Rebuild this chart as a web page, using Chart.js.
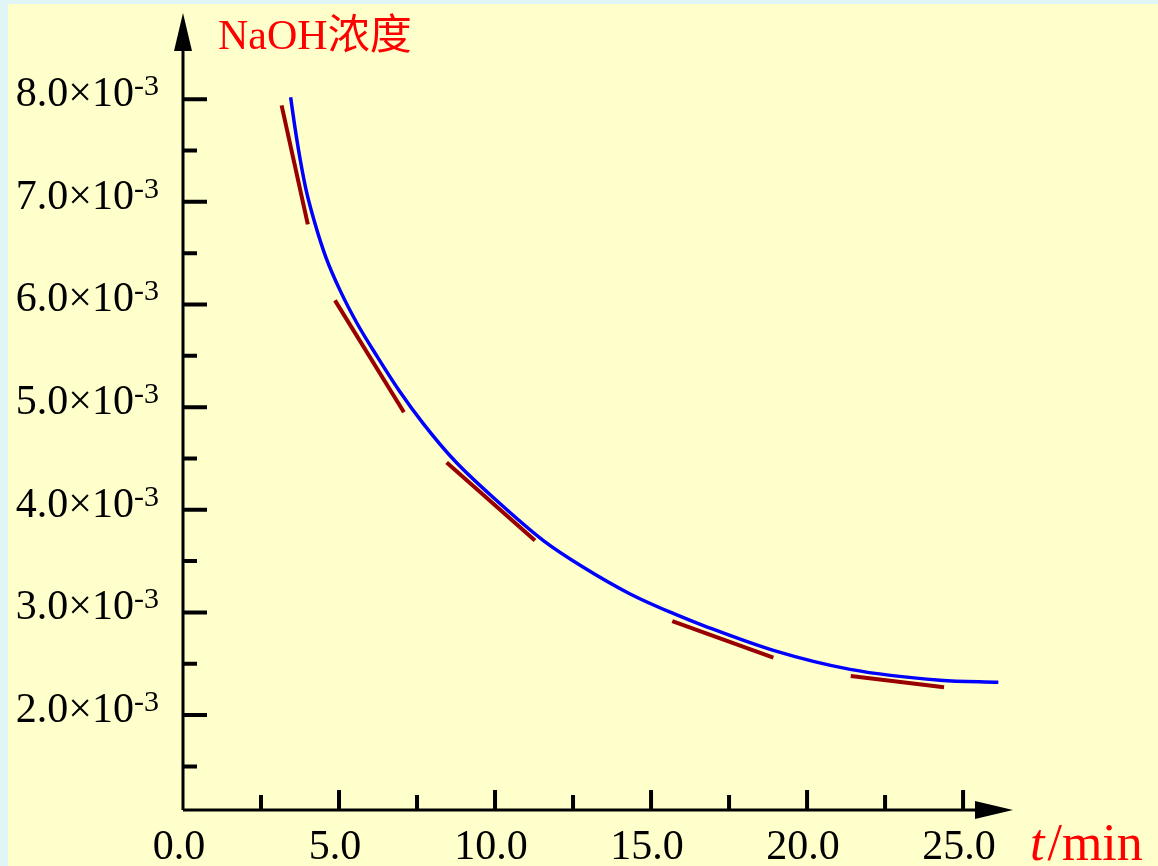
<!DOCTYPE html>
<html lang="zh">
  <head>
    <meta charset="UTF-8" />
    <title>NaOH浓度</title>
    <style>
      body {
        margin: 0;
        background-color: #e0f6f6;
      }
      canvas {
        display: block;
      }
    </style>
    <script src="https://cdn.jsdelivr.net/npm/chart.js"></script>
  </head>
  <body>
    <canvas id="chart" width="1158" height="866"></canvas>
    <script>
      // concentration curve, t in min, NaOH in units of 10^-3
      const curveT = [3.45, 3.57, 3.74, 3.95, 4.23, 4.58, 5.03, 5.59, 6.23, 6.93, 7.7, 8.7, 10.05, 11.55, 12.83, 14.33, 15.71, 16.78, 18.92, 21.38, 24.26, 26.13];
      const curveC = [8.02, 7.76, 7.44, 7.11, 6.79, 6.46, 6.14, 5.81, 5.49, 5.16, 4.84, 4.48, 4.09, 3.7, 3.44, 3.18, 2.99, 2.86, 2.63, 2.445, 2.34, 2.32];

      // short tangent segments (start / end)
      const tanStartT = [3.16, 4.87, 8.45, 15.68, 21.4];
      const tanStartC = [7.94, 6.04, 4.46, 2.915, 2.38];
      const tanEndT = [4.0, 7.08, 11.28, 18.92, 24.39];
      const tanEndC = [6.78, 4.95, 3.7, 2.56, 2.27];

      const xTicks = [0, 5, 10, 15, 20, 25];
      const xLabels = ["0.0", "5.0", "10.0", "15.0", "20.0", "25.0"];
      const xMinor = [2.5, 7.5, 12.5, 17.5, 22.5];
      const yTicks = [2, 3, 4, 5, 6, 7, 8];
      const yLabels = ["2.0", "3.0", "4.0", "5.0", "6.0", "7.0", "8.0"];
      const yMinor = [1.5, 2.5, 3.5, 4.5, 5.5, 6.5, 7.5];

      const serif = '"Liberation Serif", "Noto Sans CJK SC", serif';

      const datasets = [
        {
          data: curveT.map((t, i) => ({ x: t, y: curveC[i] })),
          showLine: true,
          borderColor: "#0000ff",
          borderWidth: 3.5,
          pointRadius: 0,
          cubicInterpolationMode: "monotone",
        },
      ];
      for (let i = 0; i < tanStartT.length; i++) {
        datasets.push({
          data: [
            { x: tanStartT[i], y: tanStartC[i] },
            { x: tanEndT[i], y: tanEndC[i] },
          ],
          showLine: true,
          borderColor: "#990000",
          borderWidth: 4,
          pointRadius: 0,
        });
      }

      // background, axes with arrows, inward ticks, labels
      const axesPlugin = {
        id: "axes",
        beforeDraw(chart) {
          const ctx = chart.ctx;
          ctx.save();
          ctx.fillStyle = "#e0f6f6";
          ctx.fillRect(0, 0, chart.width, chart.height);
          ctx.fillStyle = "#ffffcc";
          ctx.fillRect(8, 4, chart.width - 8, chart.height - 4);
          ctx.restore();
        },
        afterDraw(chart) {
          const ctx = chart.ctx;
          const xs = chart.scales.x;
          const ys = chart.scales.y;
          const x0 = xs.getPixelForValue(0);
          const y0 = ys.bottom;
          const top = ys.top;
          const right = xs.right;
          ctx.save();
          ctx.strokeStyle = "#000";
          ctx.fillStyle = "#000";
          ctx.lineWidth = 3;
          ctx.beginPath();
          ctx.moveTo(x0, y0);
          ctx.lineTo(x0, top + 30);
          ctx.moveTo(x0, y0);
          ctx.lineTo(right - 30, y0);
          ctx.stroke();

          // arrows
          ctx.beginPath();
          ctx.moveTo(x0, top);
          ctx.lineTo(x0 - 9, top + 38);
          ctx.lineTo(x0 + 9, top + 38);
          ctx.closePath();
          ctx.fill();
          ctx.beginPath();
          ctx.moveTo(right, y0);
          ctx.lineTo(right - 38, y0 - 9);
          ctx.lineTo(right - 38, y0 + 9);
          ctx.closePath();
          ctx.fill();

          // ticks
          ctx.lineWidth = 4;
          ctx.beginPath();
          yTicks.forEach((v) => {
            const py = ys.getPixelForValue(v);
            ctx.moveTo(x0, py);
            ctx.lineTo(x0 + 24, py);
          });
          yMinor.forEach((v) => {
            const py = ys.getPixelForValue(v);
            ctx.moveTo(x0, py);
            ctx.lineTo(x0 + 14, py);
          });
          xTicks.forEach((v) => {
            if (v === 0) return;
            const px = xs.getPixelForValue(v);
            ctx.moveTo(px, y0);
            ctx.lineTo(px, y0 - 20);
          });
          xMinor.forEach((v) => {
            const px = xs.getPixelForValue(v);
            ctx.moveTo(px, y0);
            ctx.lineTo(px, y0 - 15);
          });
          ctx.stroke();

          // y labels with superscript exponent
          yTicks.forEach((v, i) => {
            const py = ys.getPixelForValue(v);
            ctx.font = "42px " + serif;
            ctx.textAlign = "right";
            ctx.textBaseline = "alphabetic";
            ctx.fillText(yLabels[i] + "\u00d710", 134, py + 7);
            ctx.font = "30px " + serif;
            ctx.textAlign = "left";
            ctx.fillText("-3", 134, py - 4);
          });

          // x labels
          ctx.font = "42px " + serif;
          ctx.textAlign = "center";
          xTicks.forEach((v, i) => {
            const px = xs.getPixelForValue(v);
            ctx.fillText(xLabels[i], px - 4, 859);
          });

          // axis titles
          ctx.fillStyle = "#ff0000";
          ctx.textAlign = "left";
          ctx.font = "42px " + serif;
          ctx.fillText("NaOH浓度", 218, 49);
          let tx = 1030;
          ctx.font = "italic 52px " + serif;
          ctx.fillText("t", tx, 860);
          tx += ctx.measureText("t").width + 3;
          ctx.font = "52px " + serif;
          ctx.fillText("/min", tx, 860);
          ctx.restore();
        },
      };

      new Chart(document.getElementById("chart"), {
        type: "scatter",
        data: { datasets: datasets },
        options: {
          responsive: false,
          animation: false,
          layout: {
            padding: { left: 183, right: 145, top: 13, bottom: 56 },
          },
          plugins: {
            legend: { display: false },
            tooltip: { enabled: false },
          },
          scales: {
            x: { type: "linear", min: 0, max: 26.6, display: false },
            y: { type: "linear", min: 1.075, max: 8.84, display: false },
          },
        },
        plugins: [axesPlugin],
      });
    </script>
  </body>
</html>
